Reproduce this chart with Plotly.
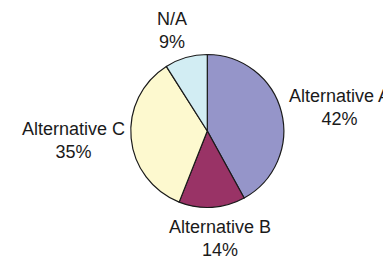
import plotly.graph_objects as go

labels = ["Alternative A", "Alternative B", "Alternative C", "N/A"]
values = [42, 14, 35, 9]
colors = ["#9595C9", "#993366", "#FDF9CF", "#D2EDF3"]

# label anchor positions (page pixels in the 391x260 window)
label_x = [339, 220, 73, 172]
label_y = [108, 238, 140, 30]

# the page body adds an 8px margin, so the figure itself is 8px smaller
OFF = 8
W, H = 391 - OFF, 260 - OFF
cx, cy, r = 207.3 - OFF, 131 - OFF, 76.5

fig = go.Figure()
fig.add_trace(go.Pie(
    labels=labels,
    values=values,
    sort=False,
    direction="clockwise",
    rotation=0,
    marker=dict(colors=colors, line=dict(color="#1a1a1a", width=1.2)),
    textinfo="none",
    hoverinfo="label+percent",
    showlegend=False,
    domain=dict(x=[(cx - r) / W, (cx + r) / W], y=[(H - cy - r) / H, (H - cy + r) / H]),
))

for lab, v, x, y in zip(labels, values, label_x, label_y):
    fig.add_annotation(
        x=(x - OFF) / W, y=1 - (y - OFF) / H, xref="paper", yref="paper",
        text=f"{lab}<br>{v}%", showarrow=False,
        xanchor="center", yanchor="middle", align="center",
        font=dict(family="Liberation Sans, Arial, sans-serif", size=18, color="#1a1a1a"),
    )

fig.update_layout(
    width=W, height=H,
    margin=dict(l=0, r=0, t=0, b=0),
    paper_bgcolor="white", plot_bgcolor="white",
)

fig.write_html("out.html")
